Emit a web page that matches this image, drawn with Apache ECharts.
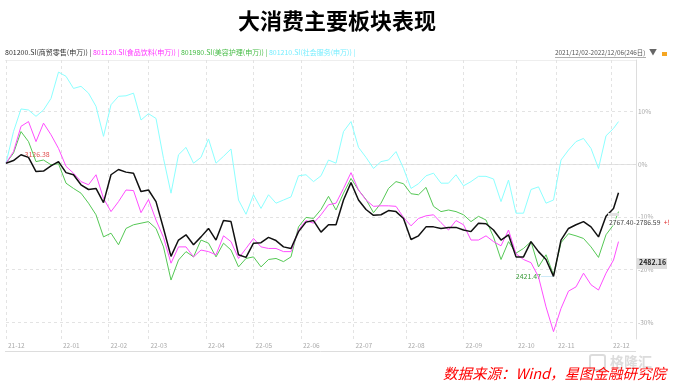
<!DOCTYPE html>
<html><head><meta charset="utf-8">
<script src="https://cdn.jsdelivr.net/npm/echarts@6/dist/echarts.min.js"></script>
<style>html,body{margin:0;padding:0;background:#fff}#c{width:674px;height:386px}</style>
</head><body><div id="c"></div>
<script>
// ---- data ----
const titleText = '大消费主要板块表现';
const sourceText = '数据来源：Wind，星图金融研究院';
const dateRangeText = '2021/12/02-2022/12/06(246日)';
const seriesNames = ['801200.SI(商贸零售(申万))', '801120.SI(食品饮料(申万))', '801980.SI(美容护理(申万))', '801210.SI(社会服务(申万))'];
const monthLabels = ['21-12','22-01','22-02','22-03','22-04','22-05','22-06','22-07','22-08','22-09','22-10','22-11','22-12'];
const tradingDaysPerMonth = [22,19,16,23,19,19,21,21,23,21,16,22,4];
const yTickValues = [10, 0, -10, -20, -30];
// trading-day index of each sampled point
const sampleDays = [0,3,6,9,12,15,18,21,24,27,30,33,36,39,42,45,48,51,54,57,60,63,66,69,72,75,78,81,84,87,90,93,96,99,102,105,108,111,114,117,120,123,126,129,132,135,138,141,144,147,150,153,156,159,162,165,168,171,174,177,180,183,186,189,192,195,198,201,204,207,210,213,216,219,222,225,228,231,234,237,240,243,245];
// % change
const retail = [0.2,0.7,1.8,1.3,-1.4,-1.3,-0.3,0.5,-1.6,-2.0,-3.9,-4.8,-4.6,-7.3,-2.0,-1.0,
  -1.5,-1.7,-5.2,-4.9,-7.1,-12.2,-17.5,-14.4,-13.4,-15.3,-13.8,-12.2,-14.4,-10.7,-10.9,-17.2,
  -17.7,-15.0,-14.9,-13.9,-14.5,-15.7,-16.0,-12.8,-11.0,-10.7,-12.9,-11.5,-11.5,-6.8,-3.5,-6.8,
  -8.6,-9.7,-9.6,-8.8,-9.0,-10.3,-14.3,-13.6,-11.9,-11.9,-12.2,-12.0,-12.0,-12.5,-12.8,-11.2,
  -11.3,-12.5,-14.4,-13.4,-17.6,-17.6,-14.7,-16.6,-18.1,-21.3,-14.4,-12.2,-11.5,-10.9,-11.9,-13.8,-9.9,-8.4,-5.4];
const food = [0.2,2.4,7.2,8.1,4.3,7.8,5.6,3.0,-0.4,-1.7,-3.3,-3.9,-2.0,-6.5,-9.0,-7.1,
  -4.9,-5.0,-9.2,-6.7,-10.6,-13.9,-18.8,-15.7,-15.7,-17.6,-16.3,-16.6,-17.2,-13.6,-14.7,-17.9,
  -16.0,-14.1,-15.7,-16.0,-16.0,-16.6,-16.6,-12.5,-10.7,-11.2,-9.6,-7.7,-7.4,-4.6,-1.6,-4.9,
  -6.8,-8.0,-7.9,-7.9,-8.0,-10.1,-11.7,-10.3,-9.8,-9.6,-11.1,-12.5,-10.7,-11.5,-14.4,-14.4,
  -13.6,-14.7,-15.5,-12.5,-17.0,-18.1,-18.7,-21.4,-27.1,-31.8,-27.4,-24.1,-23.3,-20.7,-22.9,-23.9,-20.7,-18.2,-14.7];
const beauty = [0.2,2.1,6.2,4.3,0.5,0.8,-0.1,0.1,-3.6,-4.6,-5.5,-7.4,-9.6,-13.8,-13.1,-15.3,
  -12.2,-11.5,-11.2,-10.9,-12.2,-15.7,-22.0,-18.2,-16.6,-17.6,-14.4,-15.0,-17.6,-15.0,-16.3,-19.5,
  -17.9,-17.6,-19.5,-18.1,-17.9,-18.5,-17.6,-11.9,-10.1,-10.3,-8.6,-6.1,-8.7,-5.5,-2.7,-4.9,
  -6.7,-9.2,-7.4,-4.6,-3.3,-3.7,-5.6,-5.8,-4.4,-8.0,-9.0,-8.7,-9.0,-9.6,-10.9,-9.9,
  -10.6,-13.8,-18.1,-14.7,-16.9,-16.0,-14.7,-19.5,-17.2,-21.0,-14.9,-13.2,-13.6,-14.1,-15.7,-17.7,-13.4,-11.5,-9.0];
const services = [0.2,6.2,10.5,10.3,9.1,10.3,12.5,17.5,16.7,14.4,14.8,13.5,11.0,5.3,11.3,12.9,
  13.0,13.5,8.4,9.6,8.7,1.1,-5.5,1.8,3.2,0.2,1.3,4.8,0.2,1.5,2.9,-6.8,
  -9.5,-5.8,-8.4,-5.8,-7.4,-6.8,-6.2,-2.2,-2.0,-3.3,-2.2,0.8,0.2,6.2,8.1,3.2,
  1.3,-0.8,0.5,0.8,2.4,-0.8,-4.6,-3.7,-2.2,-1.7,-3.6,-3.6,-2.0,-4.1,-3.3,-2.3,
  -2.3,-2.8,-7.1,-3.0,-9.3,-9.3,-4.8,-4.3,-7.4,-6.8,0.8,2.7,4.3,4.9,3.0,-0.8,5.4,6.8,8.1];
const maxLabel = '3126.38';
const minLabel = '2421.47';
const lastRangeLabel = '2767.40-2786.59';
const pointerLabel = '2482.16';

// ---- build ----
const FONT = '"Noto Sans CJK SC", "Noto Sans", sans-serif';
const colors = ['#111111', '#ff4dff', '#55c855', '#8cffff'];
const legendColors = ['#333333', '#ff33ff', '#44bb44', '#77eeff'];
const monthStarts = [];
let acc = 0;
tradingDaysPerMonth.forEach(d => { monthStarts.push(acc); acc += d; });
const totalDays = acc;            // 246
const padDays = 7;                // empty room before right axis
const categories = [];
for (let i = 0; i < totalDays + padDays; i++) {
  const m = monthStarts.indexOf(i);
  categories.push(m >= 0 ? monthLabels[m] : '');
}
const isMonthStart = (i) => monthStarts.indexOf(i) >= 0;
const pairs = (vals) => vals.map((v, k) => [sampleDays[k], v]);

const allSeries = [retail, food, beauty, services];
const series = [];
[3, 2, 1, 0].forEach(si => {
  const s = {
    name: seriesNames[si], type: 'line', data: pairs(allSeries[si]),
    showSymbol: false, symbol: 'none', smooth: false,
    lineStyle: { color: colors[si], width: si === 0 ? 1.5 : 1 },
    itemStyle: { color: colors[si] }, z: 10 - si, animation: false
  };
  if (si === 3) {
    s.markLine = {
      silent: true, symbol: 'none', animation: false,
      label: { show: false },
      lineStyle: { type: [3, 3], color: '#e3e3e3', width: 1 },
      data: yTickValues.map(v => ({ yAxis: v }))
    };
  }
  if (si === 0) {
    s.markPoint = {
      symbol: 'circle', symbolSize: 1, animation: false, silent: true,
      itemStyle: { color: 'rgba(0,0,0,0)' },
      data: [
        { type: 'max', label: { show: true, position: 'right', distance: 3, formatter: maxLabel, color: '#e05050', fontSize: 7, fontFamily: FONT } },
        { type: 'min', label: { show: true, position: 'left', distance: 0, formatter: '{v|' + minLabel + '}{l|——}',
          rich: { v: { color: '#3a9a3a', fontSize: 7, fontFamily: FONT }, l: { color: '#88ccee', fontSize: 6 } } } }
      ]
    };
  }
  series.push(s);
});

const legendRich = {};
const legendParts = [];
seriesNames.forEach((n, i) => {
  legendRich['s' + i] = { fill: legendColors[i], fontSize: 7, fontFamily: FONT };
  legendParts.push('{s' + i + '|' + n + ' | }');
});

const option = {
  animation: false,
  backgroundColor: '#fff',
  title: { text: titleText, left: 'center', top: 5, textStyle: { fontSize: 22, fontWeight: 'bold', color: '#000', fontFamily: FONT } },
  grid: { left: 6, right: 38, top: 60, bottom: 47 },
  xAxis: {
    type: 'category', data: categories, boundaryGap: false,
    axisLine: { lineStyle: { color: '#dddddd' } },
    axisTick: { show: false },
    axisLabel: { interval: (i) => isMonthStart(i), align: 'left', padding: [0, 0, 0, 2], margin: 3, color: '#aaaaaa', fontSize: 6.5, fontFamily: FONT },
    splitLine: { show: true, interval: (i) => isMonthStart(i), lineStyle: { type: [3, 3], color: '#e3e3e3' } }
  },
  yAxis: {
    type: 'value', position: 'right', min: -33.2, max: 19.8,
    axisLine: { show: true, lineStyle: { color: '#dddddd' } },
    axisTick: { show: false },
    splitLine: { show: false },
    axisLabel: { customValues: yTickValues, formatter: (v) => v + '%', color: '#aaaaaa', fontSize: 6.5, margin: 2, fontFamily: FONT }
  },
  series: series,
  graphic: [
    { type: 'text', left: 5, top: 49, style: { text: legendParts.join(''), rich: legendRich, font: '7px ' + FONT } },
    { type: 'text', left: 555, top: 49.5, style: { text: dateRangeText, fill: '#555', font: '6.4px ' + FONT } },
    { type: 'line', shape: { x1: 555, y1: 57.5, x2: 646, y2: 57.5 }, style: { stroke: '#777', lineWidth: 0.6 } },
    { type: 'text', left: 649, top: 48, style: { text: '▼', fill: '#666', font: '8px ' + FONT } },
    { type: 'rect', shape: { x: 662, y: 52, width: 5, height: 4 }, style: { fill: '#f5a623' } },
    { type: 'line', shape: { x1: 5, y1: 351.5, x2: 636, y2: 351.5 }, style: { stroke: '#dddddd', lineWidth: 1 } },
    { type: 'line', shape: { x1: 5, y1: 60.5, x2: 636, y2: 60.5 }, style: { stroke: '#eeeeee', lineWidth: 1 } },
    { type: 'rect', shape: { x: 608, y: 213, width: 11, height: 3 }, style: { fill: '#e2e2e2' }, z: 50 },
    { type: 'text', left: 609, top: 216, z: 50, style: { text: '{a|' + lastRangeLabel + '} {b|+!}', rich: { a: { fill: '#444', fontSize: 6.8, fontFamily: FONT, backgroundColor: 'rgba(255,255,255,0.8)' }, b: { fill: '#e03030', fontSize: 6.8, fontFamily: FONT } } } },
    { type: 'rect', shape: { x: 637, y: 258, width: 30, height: 11 }, style: { fill: '#dddddd' }, z: 50 },
    { type: 'text', left: 639, top: 259, z: 51, style: { text: pointerLabel, fill: '#222', font: 'bold 7px ' + FONT } },
    { type: 'text', left: 610, top: 355, z: 0, style: { text: '格隆汇', fill: '#dcdcdc', font: 'bold 14px ' + FONT } },
    { type: 'rect', shape: { x: 590, y: 355, width: 15, height: 15, r: 2 }, style: { fill: 'none', stroke: '#dcdcdc', lineWidth: 2 }, z: 0 },
    { type: 'text', right: 8, top: 366, z: 60, style: { text: sourceText, fill: '#ff0000', font: 'italic 14.5px ' + FONT } }
  ]
};
const chart = echarts.init(document.getElementById('c'), null, { renderer: 'canvas' });
chart.setOption(option);
</script>
</body></html>
